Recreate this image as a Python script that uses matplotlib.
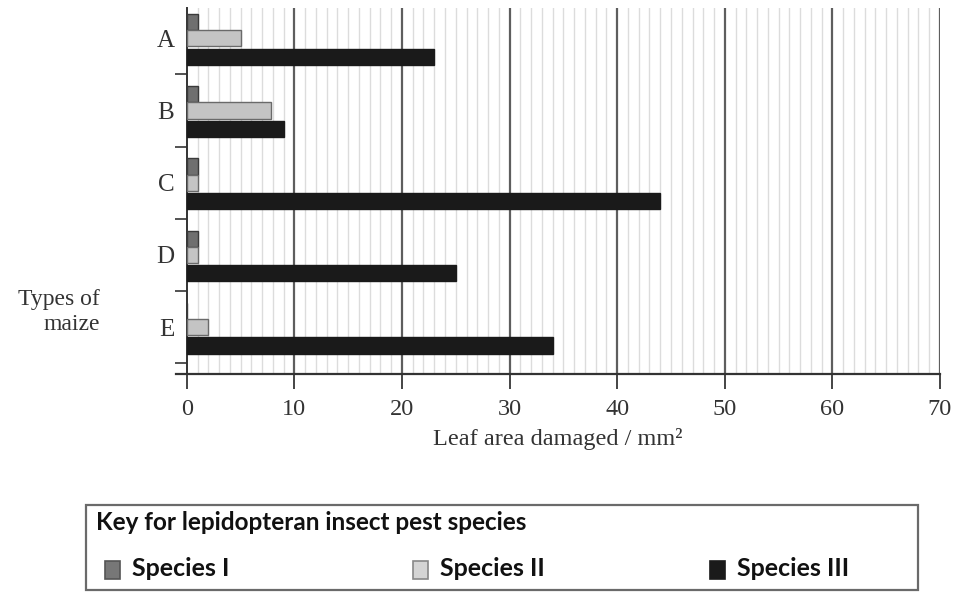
import matplotlib.pyplot as plt
import numpy as np
from matplotlib.patches import Rectangle

# types of maize and leaf area damaged (mm^2) per pest species
maize_types = ['A', 'B', 'C', 'D', 'E']
species_i = [1, 1, 1, 1, 0]
species_ii = [5, 7.8, 1, 1, 2]
species_iii = [23, 9, 44, 25, 34]
species_names = ['Species I', 'Species II', 'Species III']
xticks = [0, 10, 20, 30, 40, 50, 60, 70]

serif = 'Liberation Serif'

fig = plt.figure(figsize=(9.54, 5.92), dpi=100)
ax = fig.add_axes([176 / 954, 1 - 374 / 592, (940 - 176) / 954, (374 - 8) / 592])

y = np.arange(len(maize_types))
h = 0.225
ax.barh(y - h, species_i, height=h, color='#6f6f6f', edgecolor='#3a3a3a', linewidth=1, zorder=3)
ax.barh(y, species_ii, height=h, color='#c4c4c4', edgecolor='#6a6a6a', linewidth=1, zorder=3)
ax.barh(y + h + 0.03, species_iii, height=h, color='#1a1a1a', edgecolor='#1a1a1a', linewidth=1, zorder=3)

ax.set_xlim(-1.0, 70)
ax.set_ylim(4.65, -0.42)

# grid: fine lines every unit, heavy lines every 10
for v in range(1, 71):
    if v % 10 == 0:
        ax.axvline(v, color='#5e5e5e', lw=1.6, zorder=1)
    else:
        ax.axvline(v, color='#dcdcdc', lw=1.0, zorder=1)

for s in ['top', 'right']:
    ax.spines[s].set_visible(False)
ax.spines['left'].set_position(('data', 0))
ax.spines['left'].set_color('#333333')
ax.spines['left'].set_linewidth(1.4)
ax.spines['bottom'].set_color('#333333')
ax.spines['bottom'].set_linewidth(1.6)

ax.set_xticks(xticks)
ax.set_xticklabels([str(t) for t in xticks], fontfamily=serif, fontsize=17.5, color='#333333')
ax.tick_params(axis='x', length=11, width=1.4, color='#444444', pad=7)

ax.set_yticks(y)
ax.set_yticklabels(maize_types, fontfamily=serif, fontsize=18, color='#333333')
ax.tick_params(axis='y', length=0, pad=9)
ax.set_yticks(y + 0.5, minor=True)
ax.tick_params(axis='y', which='minor', length=9, width=1.3, color='#444444')

ax.set_xlabel('Leaf area damaged / mm²', fontfamily=serif, fontsize=17.5, color='#333333', labelpad=6)
fig.text(100 / 954, 1 - 312 / 592, 'Types of\nmaize', ha='right', va='center',
         fontfamily=serif, fontsize=17, color='#333333', linespacing=1.3)

# key box
fig.add_artist(Rectangle((86 / 954, 1 - 590 / 592), (918 - 86) / 954, (590 - 505) / 592,
                         transform=fig.transFigure, fill=False, edgecolor='#6a6a6a', lw=1.6))
fig.text(96 / 954, 1 - 523 / 592, 'Key for lepidopteran insect pest species', ha='left', va='center',
         fontfamily='Lato', fontweight='bold', fontsize=17.5, color='#111111')
key_colors = ['#777777', '#d4d4d4', '#1a1a1a']
key_edges = ['#555555', '#888888', '#1a1a1a']
key_x = [105, 413, 710]
for name, c, e, kx in zip(species_names, key_colors, key_edges, key_x):
    fig.add_artist(Rectangle((kx / 954, 1 - 579 / 592), 15 / 954, 18 / 592, transform=fig.transFigure,
                             facecolor=c, edgecolor=e, lw=1.2))
    fig.text((kx + 27) / 954, 1 - 569 / 592, name, ha='left', va='center',
             fontfamily='Lato', fontweight='bold', fontsize=18, color='#111111')

fig.savefig('out.png', dpi=100)
